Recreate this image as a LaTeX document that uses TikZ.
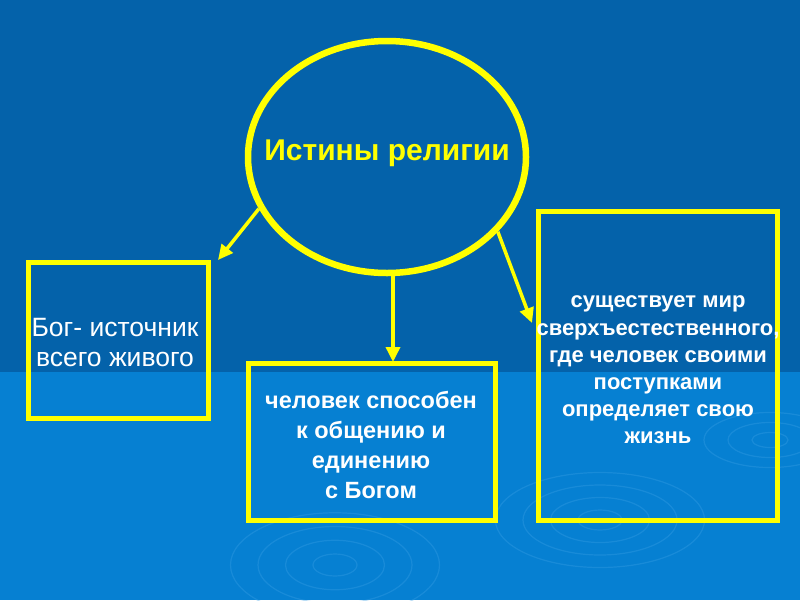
\documentclass[tikz,border=0pt]{standalone}
\usepackage{fontspec}
\setmainfont{Liberation Sans}
\usetikzlibrary{shapes.geometric,arrows.meta}
\definecolor{bgtop}{RGB}{4,98,170}
\definecolor{bgbot}{RGB}{6,128,210}
\definecolor{ylw}{RGB}{255,255,0}
\definecolor{ripple}{RGB}{60,160,230}
\tikzset{
  ytxt/.style={text=white, align=center},
  ybox/.style={draw=ylw, line width=5pt, inner sep=0pt},
  yarrow/.style={draw=ylw, line width=3.5pt, -{Triangle[length=15pt,width=14pt]}},
}
\begin{document}
\begin{tikzpicture}[x=1pt,y=-1pt]
\useasboundingbox (0,0) rectangle (800,600);
\fill[bgtop] (0,0) rectangle (800,372);
\fill[bgbot] (0,372) rectangle (800,600);
% ripples
\begin{scope}[draw=ripple, opacity=0.35, line width=1.2pt]
\foreach \r in {20,45,70,95} {\draw (335,565) ellipse ({\r*1.1} and {\r*0.55});}
\foreach \r in {20,45,70,95} {\draw (600,520) ellipse ({\r*1.1} and {\r*0.5});}
\foreach \r in {15,35,55} {\draw (770,440) ellipse ({\r*1.2} and {\r*0.5});}
\end{scope}
% central ellipse
\node[ellipse, draw=ylw, line width=6.5pt, minimum width=278pt, minimum height=232pt, inner sep=0pt] (c) at (387,157) {};
\node[text=ylw, font=\bfseries\fontsize{30}{32}\selectfont] (title) at (387,153) {Истины религии};
% boxes
\node[ybox, minimum width=180pt, minimum height=156pt] (bl) at (118,340) {};
\node[ytxt, font=\fontsize{26.5}{30}\selectfont] (tl) at (115,343) {Бог- источник\\ всего живого};
\node[ybox, minimum width=247pt, minimum height=157pt] (bm) at (371.5,441.5) {};
\node[ytxt, font=\bfseries\fontsize{23.5}{30}\selectfont] (tm) at (371,445) {человек способен\\к общению и\\единению\\с Богом};
\node[ybox, minimum width=239pt, minimum height=309pt] (br) at (657.5,365.5) {};
\node[ytxt, font=\bfseries\fontsize{22}{27.2}\selectfont] (tr) at (658,370) {существует мир\\сверхъестественного,\\где человек своими\\поступками\\определяет свою\\жизнь};
% arrows
\coordinate (la) at (218,260);
\coordinate (ma) at (393,362);
\coordinate (ra) at (532,323);
\draw[yarrow] (c.202.8) -- (la);
\draw[yarrow] (c.south -| ma) -- (ma);
\draw[yarrow] (c.-34.8) -- (ra);
\end{tikzpicture}
\end{document}
